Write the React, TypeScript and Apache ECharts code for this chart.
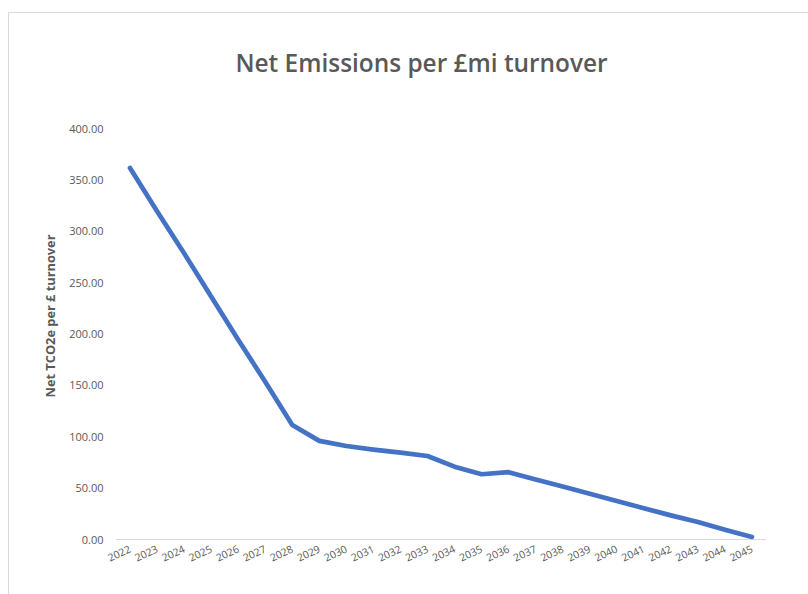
import React, { useEffect, useRef } from "react";
import * as echarts from "echarts";

const years: string[] = [
  "2022", "2023", "2024", "2025", "2026", "2027", "2028", "2029", "2030", "2031", "2032", "2033",
  "2034", "2035", "2036", "2037", "2038", "2039", "2040", "2041", "2042", "2043", "2044", "2045",
];
const netEmissions: number[] = [
  361, 319, 278, 236, 194, 153, 111, 95.5, 90.5, 87, 84, 80.8,
  70.4, 63, 65, 58, 51, 44, 37, 30, 23, 16.5, 9, 2,
];
const yTicks = { min: 0, max: 400, interval: 50 };
const titleText = "Net Emissions per £mi turnover";
const yAxisTitle = "Net TCO2e per £ turnover";

const FONT = "'Open Sans', 'Noto Sans', sans-serif";
const GREY = "#595959";

export default function App() {
  const ref = useRef<HTMLDivElement>(null);
  useEffect(() => {
    if (!ref.current) return;
    const chart = echarts.init(ref.current, undefined, { renderer: "svg" });
    chart.setOption({
      animation: false,
      backgroundColor: "#ffffff",
      textStyle: { fontFamily: FONT },
      title: {
        text: titleText,
        left: 416.5,
        top: 45,
        textAlign: "center",
        textStyle: { fontFamily: FONT, fontSize: 24.4, fontWeight: 600, color: GREY },
      },
      graphic: [
        {
          type: "rect",
          shape: { x: 8.5, y: 12.5, width: 1000, height: 1000 },
          style: { fill: "none", stroke: "#d9d9d9", lineWidth: 1 },
          silent: true,
        },
        {
          type: "text",
          x: 50,
          y: 316,
          rotation: Math.PI / 2,
          style: {
            text: yAxisTitle,
            fontFamily: FONT,
            fontSize: 12.8,
            fontWeight: "bold",
            fill: GREY,
            align: "center",
            verticalAlign: "middle",
          },
        },
      ],
      grid: { left: 116.5, right: 42.5, top: 128, bottom: 55, containLabel: false },
      xAxis: {
        type: "category",
        data: years,
        boundaryGap: true,
        axisLine: { show: true, lineStyle: { color: "#d9d9d9", width: 1 } },
        axisTick: { show: false },
        axisLabel: {
          interval: 0,
          rotate: 25,
          margin: 9,
          fontSize: 10.5,
          color: GREY,
          fontFamily: FONT,
        },
        splitLine: { show: false },
      },
      yAxis: {
        type: "value",
        min: yTicks.min,
        max: yTicks.max,
        interval: yTicks.interval,
        axisLine: { show: false },
        axisTick: { show: false },
        splitLine: { show: false },
        axisLabel: {
          margin: 13,
          fontSize: 11,
          color: GREY,
          fontFamily: FONT,
          formatter: (v: number) => v.toFixed(2),
        },
      },
      series: [
        {
          type: "line",
          data: netEmissions,
          symbol: "none",
          lineStyle: { color: "#4472C4", width: 4.7, cap: "round", join: "round" },
          itemStyle: { color: "#4472C4" },
        },
      ],
    });
    return () => chart.dispose();
  }, []);
  return (
    <div
      ref={ref}
      style={{ position: "fixed", left: 0, top: 0, width: 808, height: 594 }}
    />
  );
}
